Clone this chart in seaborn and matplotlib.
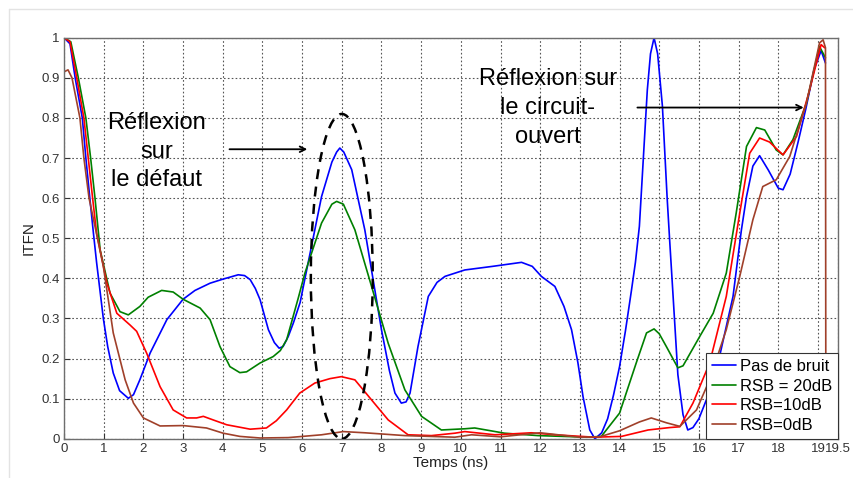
import matplotlib
matplotlib.use("Agg")
import matplotlib.pyplot as plt
import numpy as np
import pandas as pd
import seaborn as sns
from matplotlib.lines import Line2D
from matplotlib.patches import Ellipse

# values (temps in ns, ITFN)
blue_t = [0, 0.15, 0.28, 0.46, 0.55, 0.65, 0.74, 0.82, 0.99, 1.1, 1.24, 1.4, 1.62, 1.75,
          1.91, 2.17, 2.59, 3.0, 3.3, 3.68, 4.0, 4.39, 4.55, 4.69, 4.82, 4.94, 5.15, 5.3,
          5.42, 5.52, 5.65, 5.78, 5.95, 6.15, 6.49, 6.75, 6.87, 6.95, 7.05, 7.25, 7.58,
          8.0, 8.2, 8.34, 8.5, 8.62, 8.72, 8.92, 9.18, 9.4, 9.6, 10.1, 10.8, 11.53, 11.8,
          12.03, 12.37, 12.6, 12.79, 12.95, 13.08, 13.25, 13.38, 13.55, 13.7, 13.85, 14.0,
          14.15, 14.3, 14.4, 14.5, 14.6, 14.7, 14.78, 14.87, 14.96, 15.08, 15.2, 15.26,
          15.35, 15.47, 15.6, 15.72, 15.85, 16.0, 16.22, 16.52, 16.86, 17.07, 17.2, 17.36,
          17.53, 17.75, 18.0, 18.12, 18.3, 18.5, 18.7, 18.9, 19.08, 19.19]
blue_y = [1.0, 0.985, 0.9, 0.8, 0.7, 0.6, 0.513, 0.44, 0.3, 0.23, 0.164, 0.12, 0.101,
          0.11, 0.147, 0.214, 0.297, 0.348, 0.37, 0.388, 0.398, 0.409, 0.407, 0.397,
          0.375, 0.347, 0.272, 0.24, 0.226, 0.23, 0.255, 0.289, 0.34, 0.438, 0.604, 0.69,
          0.715, 0.725, 0.715, 0.671, 0.521, 0.272, 0.17, 0.114, 0.089, 0.092, 0.114,
          0.23, 0.355, 0.39, 0.405, 0.421, 0.43, 0.44, 0.43, 0.405, 0.38, 0.33, 0.272,
          0.19, 0.105, 0.022, 0.0, 0.015, 0.05, 0.11, 0.18, 0.27, 0.37, 0.44, 0.53, 0.7,
          0.87, 0.96, 1.0, 0.96, 0.83, 0.6, 0.5, 0.355, 0.16, 0.06, 0.022, 0.028, 0.05,
          0.105, 0.205, 0.355, 0.52, 0.604, 0.68, 0.706, 0.67, 0.625, 0.621, 0.66, 0.74,
          0.825, 0.92, 0.968, 0.937]

green_t = [0, 0.17, 0.36, 0.55, 0.67, 0.78, 0.91, 1.16, 1.41, 1.62, 1.91, 2.12, 2.46,
           2.75, 3.0, 3.43, 3.68, 3.93, 4.18, 4.43, 4.6, 4.94, 5.27, 5.45, 5.61, 5.9,
           6.07, 6.49, 6.75, 6.87, 7.04, 7.33, 7.75, 8.17, 8.59, 9.01, 9.51, 10.1, 10.35,
           11.1, 11.94, 13.2, 13.54, 14.0, 14.42, 14.68, 14.87, 15.0, 15.18, 15.47, 15.6,
           16.02, 16.36, 16.69, 16.94, 17.2, 17.45, 17.66, 17.95, 18.12, 18.37, 18.71,
           19.04, 19.19]
green_y = [1.0, 0.99, 0.9, 0.8, 0.7, 0.6, 0.471, 0.363, 0.317, 0.309, 0.33, 0.353, 0.37,
           0.366, 0.348, 0.326, 0.297, 0.23, 0.18, 0.165, 0.167, 0.189, 0.205, 0.22,
           0.247, 0.35, 0.413, 0.538, 0.585, 0.592, 0.585, 0.521, 0.38, 0.238, 0.122,
           0.056, 0.022, 0.025, 0.027, 0.014, 0.008, 0.004, 0.006, 0.064, 0.189, 0.264,
           0.274, 0.262, 0.23, 0.177, 0.182, 0.255, 0.313, 0.413, 0.563, 0.729, 0.776,
           0.77, 0.72, 0.708, 0.746, 0.837, 0.978, 0.95]

red_t = [0, 0.15, 0.32, 0.5, 0.61, 0.72, 0.82, 1.08, 1.33, 1.66, 1.83, 2.08, 2.42, 2.75,
         3.09, 3.34, 3.51, 3.76, 4.1, 4.69, 5.1, 5.35, 5.61, 5.94, 6.32, 6.7, 6.99, 7.33,
         7.75, 8.17, 8.67, 9.26, 9.85, 10.1, 10.86, 11.78, 12.37, 13.37, 14.05, 14.72,
         15.26, 15.52, 15.85, 16.27, 16.69, 17.03, 17.28, 17.53, 17.78, 18.12, 18.46,
         18.79, 19.08, 19.17]
red_y = [1.0, 0.99, 0.9, 0.8, 0.7, 0.6, 0.513, 0.388, 0.313, 0.284, 0.268, 0.214, 0.13,
         0.072, 0.052, 0.052, 0.056, 0.047, 0.035, 0.024, 0.027, 0.045, 0.072, 0.114,
         0.139, 0.15, 0.155, 0.147, 0.097, 0.047, 0.01, 0.008, 0.014, 0.018, 0.01, 0.015,
         0.01, 0.004, 0.006, 0.022, 0.028, 0.03, 0.089, 0.189, 0.355, 0.563, 0.712, 0.75,
         0.74, 0.708, 0.754, 0.87, 0.983, 0.975]

brown_t = [0, 0.1, 0.2, 0.4, 0.5, 0.63, 0.8, 0.99, 1.24, 1.54, 1.75, 2.0, 2.42, 3.0,
           3.59, 4.01, 4.43, 4.94, 5.65, 6.49, 7.04, 7.58, 8.59, 9.85, 10.27, 11.0, 12.0,
           13.0, 13.5, 14.0, 14.5, 14.8, 15.18, 15.52, 15.94, 16.27, 16.69, 17.03, 17.36,
           17.61, 17.95, 18.29, 18.71, 19.04, 19.13, 19.19, 19.2]
brown_y = [0.915, 0.92, 0.9, 0.8, 0.7, 0.6, 0.52, 0.43, 0.264, 0.147, 0.089, 0.052,
           0.032, 0.033, 0.027, 0.014, 0.006, 0.002, 0.003, 0.01, 0.018, 0.015, 0.008,
           0.004, 0.01, 0.005, 0.015, 0.004, 0.005, 0.02, 0.042, 0.052, 0.04, 0.031,
           0.072, 0.147, 0.272, 0.405, 0.546, 0.629, 0.646, 0.704, 0.837, 0.987, 0.995,
           0.975, 0.0]

labels = ["Pas de bruit", "RSB = 20dB", "RSB=10dB", "RSB=0dB"]
colors = ["#0000ff", "#008000", "#ff0000", "#a0402a"]

x_ticks = list(range(20)) + [19.5]
x_ticklabels = [str(t) for t in range(20)] + ["19.5"]
y_ticks = [0, 0.1, 0.2, 0.3, 0.4, 0.5, 0.6, 0.7, 0.8, 0.9, 1]
y_ticklabels = ["0", "0.1", "0.2", "0.3", "0.4", "0.5", "0.6", "0.7", "0.8", "0.9", "1"]

frames = []
for lab, t, y in zip(labels,
                     [blue_t, green_t, red_t, brown_t],
                     [blue_y, green_y, red_y, brown_y]):
    frames.append(pd.DataFrame({"t": t, "itfn": y, "serie": lab}))
df = pd.concat(frames, ignore_index=True)

sns.set_style("ticks")
plt.rcParams["font.family"] = ["Liberation Sans", "DejaVu Sans"]
plt.rcParams["text.color"] = "black"

fig = plt.figure(figsize=(8.54, 4.78), dpi=100)
ax = fig.add_axes([0.075, 0.082, 0.906, 0.839])

sns.lineplot(data=df, x="t", y="itfn", hue="serie", hue_order=labels,
             palette=colors, estimator=None, sort=False, linewidth=1.2, ax=ax)

ax.set_xlim(0, 19.5)
ax.set_ylim(0, 1)
ax.set_xticks(x_ticks)
ax.set_xticklabels(x_ticklabels)
ax.set_yticks(y_ticks)
ax.set_yticklabels(y_ticklabels)
ax.tick_params(direction="in", length=4, labelsize=9.5, colors="#333333", pad=3)
ax.grid(True, linestyle=(0, (1.5, 2)), color="#555555", linewidth=0.8)
for sp in ax.spines.values():
    sp.set_color("#6e6e6e")
    sp.set_linewidth(1.0)
ax.set_xlabel("Temps (ns)", fontsize=11, labelpad=1, color="#222222")
ax.set_ylabel("ITFN", fontsize=11, labelpad=4, color="#222222")

# defect reflection annotation
ax.add_patch(Ellipse((7.0, 0.405), 1.56, 0.81, fill=False, edgecolor="black",
                     linestyle=(0, (4, 3)), linewidth=1.8, zorder=5))
ax.text(2.34, 0.716, "Réflexion\nsur\nle défaut", ha="center", va="center",
        fontsize=17, linespacing=1.4)
ax.annotate("", xy=(6.2, 0.722), xytext=(4.1, 0.722),
            arrowprops=dict(arrowstyle="->", color="black", lw=1.3))

# open-circuit reflection annotation
ax.text(12.19, 0.825, "Réflexion sur\nle circuit-\nouvert", ha="center", va="center",
        fontsize=17, linespacing=1.4)
ax.annotate("", xy=(18.71, 0.826), xytext=(14.38, 0.826),
            arrowprops=dict(arrowstyle="->", color="black", lw=1.3))

handles, _ = ax.get_legend_handles_labels()
leg = ax.legend(handles, labels, loc="lower right", fontsize=12, frameon=True,
                fancybox=False, edgecolor="#333333", framealpha=1,
                borderaxespad=0, borderpad=0.35, handlelength=1.45,
                handletextpad=0.22, labelspacing=0.28)
leg.get_frame().set_linewidth(0.8)

# faint border of the original screenshot
fig.add_artist(Line2D([9 / 854, 9 / 854], [0, 1 - 9 / 478], color="#e3e3e3", lw=1))
fig.add_artist(Line2D([9 / 854, 1], [1 - 9 / 478, 1 - 9 / 478], color="#e3e3e3", lw=1))

fig.savefig("out.png", dpi=100)
